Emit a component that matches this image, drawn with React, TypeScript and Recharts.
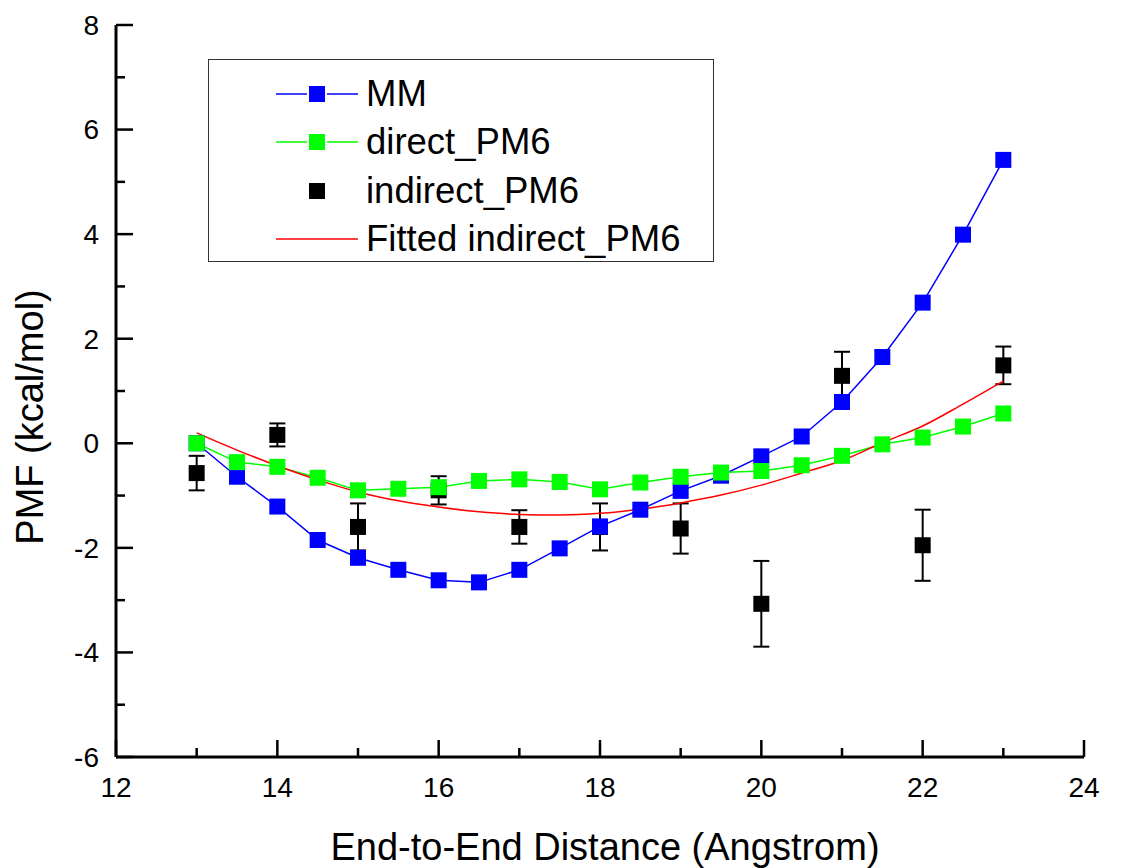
import {
  ComposedChart,
  ErrorBar,
  Label,
  Legend,
  Line,
  Scatter,
  XAxis,
  YAxis,
} from "recharts";

const FONT = "'Liberation Sans', Arial, sans-serif";

// x positions of the MM / direct_PM6 / fit curves (Angstrom)
const distance = [
  13, 13.5, 14, 14.5, 15, 15.5, 16, 16.5, 17, 17.5, 18, 18.5, 19, 19.5, 20,
  20.5, 21, 21.5, 22, 22.5, 23,
];
const mmPmf = [
  0, -0.64, -1.21, -1.85, -2.19, -2.42, -2.62, -2.66, -2.42, -2.01, -1.59,
  -1.27, -0.91, -0.62, -0.25, 0.13, 0.79, 1.65, 2.69, 3.99, 5.42,
];
const directPmf = [
  0, -0.36, -0.45, -0.66, -0.9, -0.87, -0.84, -0.72, -0.69, -0.74, -0.88,
  -0.75, -0.64, -0.56, -0.53, -0.42, -0.24, -0.02, 0.11, 0.32, 0.57,
];
const fittedPmf = [
  0.2, -0.13, -0.43, -0.7, -0.93, -1.1, -1.22, -1.31, -1.36, -1.37, -1.34,
  -1.26, -1.14, -0.99, -0.8, -0.57, -0.33, 0.01, 0.33, 0.75, 1.19,
];

const indirectDistance = [13, 14, 15, 16, 17, 18, 19, 20, 21, 22, 23];
const indirectPmf = [-0.57, 0.16, -1.6, -0.9, -1.6, -1.6, -1.63, -3.07, 1.29, -1.95, 1.49];
const indirectErr = [0.33, 0.22, 0.45, 0.27, 0.32, 0.45, 0.48, 0.82, 0.46, 0.68, 0.36];

const xTicks = [12, 13, 14, 15, 16, 17, 18, 19, 20, 21, 22, 23, 24];
const yTicks = [-6, -5, -4, -3, -2, -1, 0, 1, 2, 3, 4, 5, 6, 7, 8];

const mmData = distance.map((x, i) => ({ x, pmf: mmPmf[i] }));
const directData = distance.map((x, i) => ({ x, pmf: directPmf[i] }));
const fitData = distance.map((x, i) => ({ x, pmf: fittedPmf[i] }));
const indirectData = indirectDistance.map((x, i) => ({
  x,
  pmf: indirectPmf[i],
  err: indirectErr[i],
}));

const legendItems = [
  { name: "MM", color: "#0000ff", line: true, marker: true },
  { name: "direct_PM6", color: "#00ff00", line: true, marker: true },
  { name: "indirect_PM6", color: "#000000", line: false, marker: true },
  { name: "Fitted indirect_PM6", color: "#ff0000", line: true, marker: false },
];

const isMajor = (v: number) => Math.abs(v % 2) === 0;

function BottomTick(props: any) {
  const { x, y, payload } = props;
  const major = isMajor(payload.value);
  return (
    <g>
      <line x1={x} x2={x} y1={y} y2={y - (major ? 17 : 9)} stroke="#000" strokeWidth={2.5} />
      {major && (
        <text x={x} y={y + 30} dy="0.35em" textAnchor="middle" fontSize={28} fill="#000" fontFamily={FONT}>
          {payload.value}
        </text>
      )}
    </g>
  );
}

function TopTick(props: any) {
  const { x, y, payload } = props;
  const major = isMajor(payload.value);
  return <line x1={x} x2={x} y1={y} y2={y + (major ? 17 : 9)} stroke="#000" strokeWidth={2.5} />;
}

function LeftTick(props: any) {
  const { x, y, payload } = props;
  const major = isMajor(payload.value);
  return (
    <g>
      <line x1={x} x2={x + (major ? 17 : 9)} y1={y} y2={y} stroke="#000" strokeWidth={2.5} />
      {major && (
        <text x={x - 17} y={y} dy="0.35em" textAnchor="end" fontSize={28} fill="#000" fontFamily={FONT}>
          {payload.value}
        </text>
      )}
    </g>
  );
}

function RightTick(props: any) {
  const { x, y, payload } = props;
  const major = isMajor(payload.value);
  return <line x1={x} x2={x - (major ? 17 : 9)} y1={y} y2={y} stroke="#000" strokeWidth={2.5} />;
}

const squareDot = (color: string, prefix: string) => (props: any) => {
  const { cx, cy, index } = props;
  if (cx == null || cy == null) return <g key={`${prefix}-${index}`} />;
  return <rect key={`${prefix}-${index}`} x={cx - 8} y={cy - 8} width={16} height={16} fill={color} />;
};

function PlotLegend() {
  return (
    <div
      style={{
        width: 506,
        height: 203,
        boxSizing: "border-box",
        border: "1.5px solid #333",
        background: "#fff",
        position: "relative",
        fontFamily: FONT,
        fontSize: 36.5,
        color: "#000",
      }}
    >
      {legendItems.map((item, i) => (
        <div
          key={item.name}
          style={{
            position: "absolute",
            left: 0,
            top: 10 + i * 48.3,
            height: 48,
            width: "100%",
            display: "flex",
            alignItems: "center",
          }}
        >
          <svg width={90} height={20} style={{ position: "absolute", left: 66, top: 14 }}>
            {item.line && item.marker && (
              <>
                <line x1={1} x2={32} y1={10} y2={10} stroke={item.color} strokeWidth={1.5} />
                <line x1={52} x2={83} y1={10} y2={10} stroke={item.color} strokeWidth={1.5} />
              </>
            )}
            {item.line && !item.marker && (
              <line x1={1} x2={83} y1={10} y2={10} stroke={item.color} strokeWidth={1.5} />
            )}
            {item.marker && <rect x={34} y={2} width={16} height={16} fill={item.color} />}
          </svg>
          <span style={{ position: "absolute", left: 157, whiteSpace: "nowrap" }}>{item.name}</span>
        </div>
      ))}
    </div>
  );
}

export default function App() {
  return (
    <div style={{ position: "absolute", left: 0, top: 0, background: "#fff" }}>
      <ComposedChart
        width={1127}
        height={868}
        margin={{ top: 25, right: 43, bottom: 0, left: 0 }}
        style={{ fontFamily: FONT }}
      >
        <XAxis
          xAxisId={0}
          dataKey="x"
          type="number"
          domain={[12, 24]}
          ticks={xTicks}
          interval={0}
          height={111}
          tickSize={0}
          tickMargin={0}
          tick={<BottomTick />}
          tickLine={false}
          axisLine={{ stroke: "#000", strokeWidth: 3 }}
          allowDataOverflow
        >
          <Label
            value="End-to-End Distance (Angstrom)"
            content={() => (
              <text x={605} y={860} textAnchor="middle" fontSize={38} fill="#000" fontFamily={FONT}>
                End-to-End Distance (Angstrom)
              </text>
            )}
          />
        </XAxis>
        <XAxis
          xAxisId="top"
          orientation="top"
          dataKey="x"
          type="number"
          domain={[12, 24]}
          ticks={xTicks}
          interval={0}
          height={0}
          tickSize={0}
          tickMargin={0}
          tick={<TopTick />}
          tickLine={false}
          axisLine={{ stroke: "#000", strokeWidth: 3 }}
          allowDataOverflow
        />
        <YAxis
          yAxisId={0}
          type="number"
          domain={[-6, 8]}
          ticks={yTicks}
          interval={0}
          width={116}
          tickSize={0}
          tickMargin={0}
          tick={<LeftTick />}
          tickLine={false}
          axisLine={{ stroke: "#000", strokeWidth: 3 }}
          allowDataOverflow
        >
          <Label
            value="PMF (kcal/mol)"
            content={() => (
              <text
                x={43}
                y={417}
                transform="rotate(-90 43 417)"
                textAnchor="middle"
                fontSize={38}
                fill="#000"
                fontFamily={FONT}
              >
                PMF (kcal/mol)
              </text>
            )}
          />
        </YAxis>
        <YAxis
          yAxisId="right"
          orientation="right"
          type="number"
          domain={[-6, 8]}
          ticks={yTicks}
          interval={0}
          width={0}
          tickSize={0}
          tickMargin={0}
          tick={<RightTick />}
          tickLine={false}
          axisLine={{ stroke: "#000", strokeWidth: 3 }}
          allowDataOverflow
        />

        {/* keeps the mirrored frame axes bound to data */}
        <Line
          xAxisId="top"
          yAxisId="right"
          data={mmData}
          dataKey="pmf"
          stroke="none"
          dot={false}
          activeDot={false}
          legendType="none"
          isAnimationActive={false}
        />

        <Line
          data={mmData}
          dataKey="pmf"
          name="MM"
          type="linear"
          stroke="#0000ff"
          strokeWidth={1.5}
          dot={squareDot("#0000ff", "mm")}
          activeDot={false}
          isAnimationActive={false}
        />
        <Line
          data={directData}
          dataKey="pmf"
          name="direct_PM6"
          type="linear"
          stroke="#00ff00"
          strokeWidth={1.5}
          dot={squareDot("#00ff00", "direct")}
          activeDot={false}
          isAnimationActive={false}
        />
        <Scatter
          data={indirectData}
          dataKey="pmf"
          name="indirect_PM6"
          fill="#000"
          shape={(p: any) => <rect x={p.cx - 8} y={p.cy - 8} width={16} height={16} fill="#000" />}
          isAnimationActive={false}
        >
          <ErrorBar dataKey="err" direction="y" width={8} stroke="#000" strokeWidth={2} isAnimationActive={false} />
        </Scatter>
        <Line
          data={fitData}
          dataKey="pmf"
          name="Fitted indirect_PM6"
          type="monotone"
          stroke="#ff0000"
          strokeWidth={1.5}
          dot={false}
          activeDot={false}
          isAnimationActive={false}
        />

        <Legend
          layout="vertical"
          align="center"
          verticalAlign="middle"
          content={() => <PlotLegend />}
          wrapperStyle={{ position: "absolute", left: 208, top: 59, width: 506, height: 203 }}
        />
      </ComposedChart>
    </div>
  );
}
